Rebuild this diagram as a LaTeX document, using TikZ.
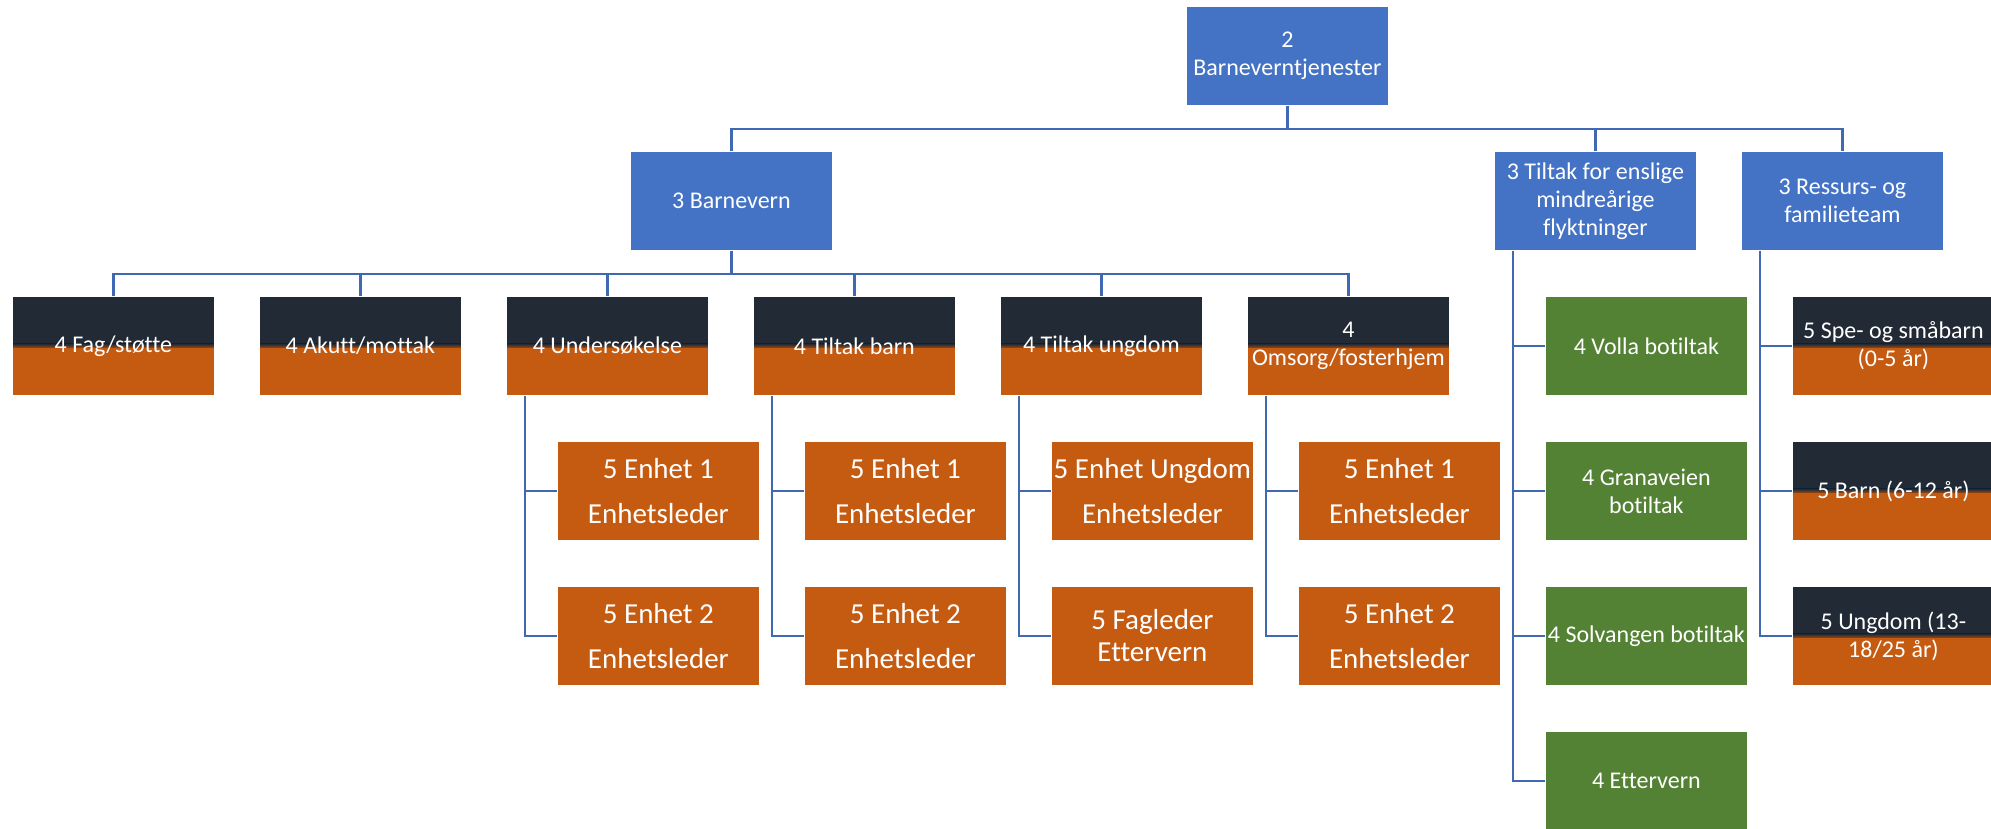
\documentclass[tikz,border=0pt]{standalone}
\usepackage{fontspec}
\setmainfont{Carlito}[Ligatures={NoCommon}]
\definecolor{bluebox}{HTML}{4472C4}
\definecolor{lineblue}{HTML}{4068B3}
\definecolor{darkbox}{HTML}{222A35}
\definecolor{orangebox}{HTML}{C55A11}
\definecolor{greenbox}{HTML}{548235}
\tikzset{
  box/.style={anchor=north west, minimum width=202pt, minimum height=99pt,
    inner sep=1pt, text=white, align=center, draw=white, line width=0.8pt,
    font=\fontsize{24}{28}\selectfont},
  bluebx/.style={box, fill=bluebox},
  greenbx/.style={box, fill=greenbox},
  orangebx/.style={box, fill=orangebox, font=\fontsize{29}{45}\selectfont},
  splitbx/.style={box, path picture={
      \fill[darkbox] (path picture bounding box.north west) rectangle ([yshift=2pt]path picture bounding box.east);
      \fill[orangebox] ([yshift=-2pt]path picture bounding box.west) rectangle (path picture bounding box.south east);
      \shade[top color=darkbox, bottom color=orangebox!80!black] ([yshift=2pt]path picture bounding box.west) rectangle ([yshift=-2pt]path picture bounding box.east);
    }},
  conn/.style={draw=lineblue, line width=2.6pt}
}
\begin{document}
\begin{tikzpicture}[x=1pt,y=-1pt]
\useasboundingbox (0,0) rectangle (1991,828);
\clip (0,0) rectangle (1991,828);
% level 2
\node[bluebx] (top) at (1186,6) {2\\Barneverntjenester};
% level 3
\node[bluebx] (bv) at (630,151) {3 Barnevern};
\node[bluebx] (emf) at (1494,151) {3 Tiltak for enslige\\mindreårige\\flyktninger};
\node[bluebx] (rf) at (1741,151) {3 Ressurs- og\\familieteam};
% level 4 under Barnevern
\node[splitbx] (fag) at (12,296) {4 Fag/støtte};
\node[splitbx] (akutt) at (259,296) {4 Akutt/mottak};
\node[splitbx] (und) at (506,296) {4 Undersøkelse};
\node[splitbx] (tb) at (753,296) {4 Tiltak barn};
\node[splitbx] (tu) at (1000,296) {4 Tiltak ungdom};
\node[splitbx] (oms) at (1247,296) {4\\Omsorg/fosterhjem};
% level 5 under Barnevern
\node[orangebx] (u1) at (557,441) {5 Enhet 1\\Enhetsleder};
\node[orangebx] (u2) at (557,586) {5 Enhet 2\\Enhetsleder};
\node[orangebx] (b1) at (804,441) {5 Enhet 1\\Enhetsleder};
\node[orangebx] (b2) at (804,586) {5 Enhet 2\\Enhetsleder};
\node[orangebx] (g1) at (1051,441) {5 Enhet Ungdom\\Enhetsleder};
\node[orangebx, font=\fontsize{29}{32}\selectfont] (g2) at (1051,586) {5 Fagleder\\Ettervern};
\node[orangebx] (o1) at (1298,441) {5 Enhet 1\\Enhetsleder};
\node[orangebx] (o2) at (1298,586) {5 Enhet 2\\Enhetsleder};
% children of Tiltak for enslige
\node[greenbx] (volla) at (1545,296) {4 Volla botiltak};
\node[greenbx] (gran) at (1545,441) {4 Granaveien\\botiltak};
\node[greenbx] (solv) at (1545,586) {4 Solvangen botiltak};
\node[greenbx] (ett) at (1545,731) {4 Ettervern};
% children of Ressurs
\node[splitbx] (spe) at (1792,296) {5 Spe- og småbarn\\(0-5 år)};
\node[splitbx] (barn) at (1792,441) {5 Barn (6-12 år)};
\node[splitbx] (ungd) at (1792,586) {5 Ungdom (13-\\18/25 år)};
% connectors level 2 -> 3
\draw[conn] (top.south) -- ++(0,23) -| (bv.north);
\draw[conn] (top.south) -- ++(0,23) -| (emf.north);
\draw[conn] (top.south) -- ++(0,23) -| (rf.north);
% connectors Barnevern -> level 4
\foreach \c in {fag,akutt,und,tb,tu,oms}
  \draw[conn] (bv.south) -- ++(0,23) -| (\c.north);
% side trees
\foreach \p/\a/\b in {und/u1/u2, tb/b1/b2, tu/g1/g2, oms/o1/o2}{
  \draw[conn] ([xshift=19pt]\p.south west) |- (\a.west);
  \draw[conn] ([xshift=19pt]\p.south west) |- (\b.west);
}
\foreach \c in {volla,gran,solv,ett}
  \draw[conn] ([xshift=19pt]emf.south west) |- (\c.west);
\foreach \c in {spe,barn,ungd}
  \draw[conn] ([xshift=19pt]rf.south west) |- (\c.west);
\end{tikzpicture}
\end{document}
